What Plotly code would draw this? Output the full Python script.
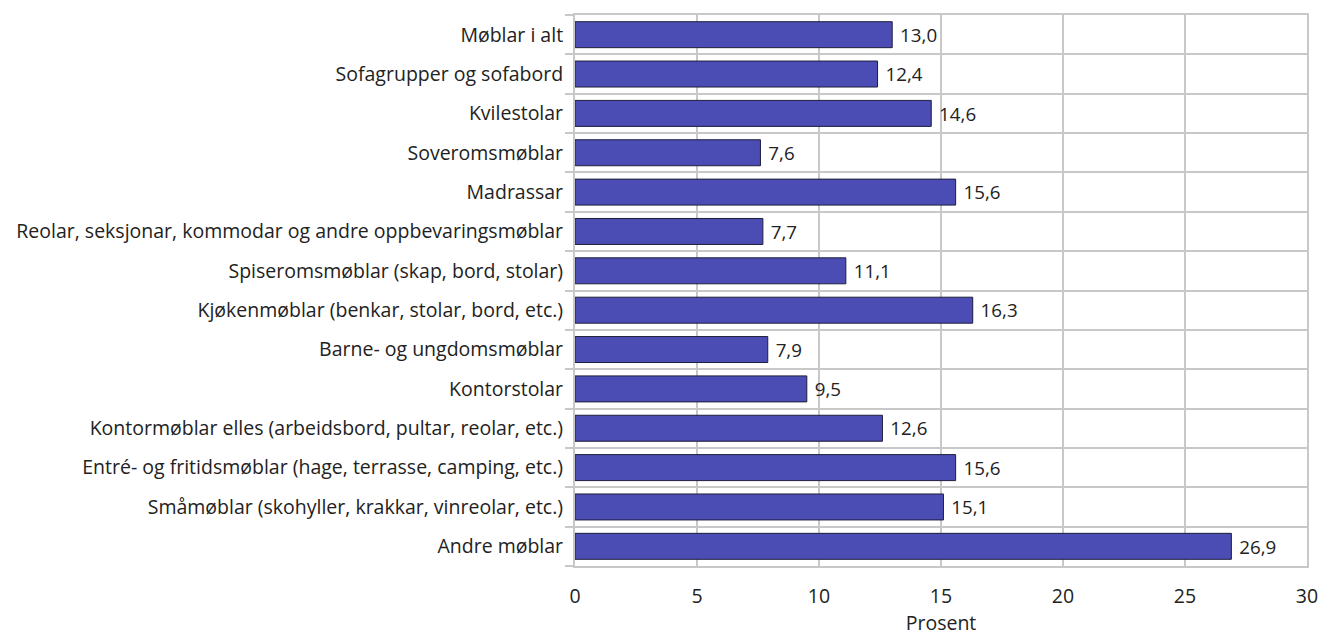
import plotly.graph_objects as go

categories = [
    "Møblar i alt",
    "Sofagrupper og sofabord",
    "Kvilestolar",
    "Soveromsmøblar",
    "Madrassar",
    "Reolar, seksjonar, kommodar og andre oppbevaringsmøblar",
    "Spiseromsmøblar (skap, bord, stolar)",
    "Kjøkenmøblar (benkar, stolar, bord, etc.)",
    "Barne- og ungdomsmøblar",
    "Kontorstolar",
    "Kontormøblar elles (arbeidsbord, pultar, reolar, etc.)",
    "Entré- og fritidsmøblar (hage, terrasse, camping, etc.)",
    "Småmøblar (skohyller, krakkar, vinreolar, etc.)",
    "Andre møblar",
]
values = [13.0, 12.4, 14.6, 7.6, 15.6, 7.7, 11.1, 16.3, 7.9, 9.5, 12.6, 15.6, 15.1, 26.9]
x_ticks = [0, 5, 10, 15, 20, 25, 30]

positions = list(range(len(categories)))
labels = [" " + f"{v:.1f}".replace(".", ",") for v in values]

FS = 19.5

fig = go.Figure(go.Bar(
    x=values,
    y=positions,
    orientation="h",
    width=0.66,
    marker=dict(color="#4b4db5", line=dict(color="#1e1e3c", width=1)),
    text=labels,
    textposition="outside",
    textfont=dict(size=FS, color="#222222"),
    cliponaxis=False,
    hoverinfo="skip",
))

grid = "#c8c8c8"
fig.update_layout(
    width=1329,
    height=634,
    margin=dict(l=567, r=30, t=5, b=76),
    paper_bgcolor="white",
    plot_bgcolor="white",
    font=dict(family="Open Sans, Noto Sans, sans-serif", size=FS, color="#222222"),
    showlegend=False,
)
fig.update_xaxes(
    range=[0, 30],
    tickvals=x_ticks,
    ticktext=[str(t) for t in x_ticks],
    showgrid=True,
    gridcolor=grid,
    gridwidth=2,
    zeroline=False,
    showline=True,
    linecolor=grid,
    linewidth=2,
    mirror=True,
    ticks="",
    ticklabelstandoff=12,
    title=dict(text="Prosent", font=dict(size=FS), standoff=4),
    tickfont=dict(size=FS),
)
fig.update_yaxes(
    range=[len(categories) - 0.5, -0.5],
    tickmode="array",
    tickvals=positions,
    ticktext=categories,
    showgrid=False,
    ticks="",
    zeroline=False,
    showline=True,
    linecolor=grid,
    linewidth=2,
    mirror=True,
    ticklabelstandoff=6,
    tickfont=dict(size=FS),
    minor=dict(
        tickmode="array",
        tickvals=[p + 0.5 for p in positions[:-1]] + [-0.5, len(categories) - 0.5],
        showgrid=True,
        gridcolor=grid,
        gridwidth=2,
        ticks="outside",
        ticklen=8,
        tickwidth=2,
        tickcolor=grid,
    ),
)

fig.write_html("out.html")
